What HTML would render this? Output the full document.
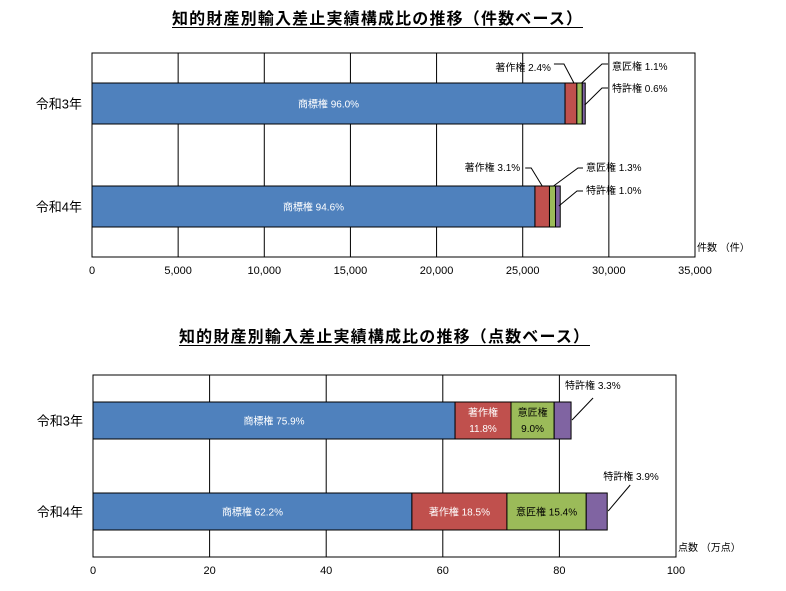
<!DOCTYPE html>
<html><head><meta charset="utf-8">
<style>
body{margin:0;background:#fff;}
svg{display:block;font-family:"Liberation Sans","Noto Sans CJK JP",sans-serif;}
</style></head>
<body>
<svg id="c" width="786" height="591" viewBox="0 0 786 591"></svg>
<script>
const categories = ["令和3年","令和4年"];
const seriesNames = ["商標権","著作権","意匠権","特許権"];
const colors = ["#4f81bd","#c0504d","#9bbb59","#8064a2"];
// chart 1: counts
const c1Trademark = [27456, 25710];
const c1Copyright = [686, 843];
const c1Design = [315, 353];
const c1Patent = [172, 272];
const c1Pct = [["96.0%","2.4%","1.1%","0.6%"],["94.6%","3.1%","1.3%","1.0%"]];
const c1Ticks = [0,5000,10000,15000,20000,25000,30000,35000];
const c1TickLabels = ["0","5,000","10,000","15,000","20,000","25,000","30,000","35,000"];
// chart 2: points (10k)
const c2Trademark = [62.1, 54.7];
const c2Copyright = [9.6, 16.3];
const c2Design = [7.4, 13.6];
const c2Patent = [2.9, 3.6];
const c2Pct = [["75.9%","11.8%","9.0%","3.3%"],["62.2%","18.5%","15.4%","3.9%"]];
const c2Ticks = [0,20,40,60,80,100];
const c2TickLabels = ["0","20","40","60","80","100"];

const NS="http://www.w3.org/2000/svg";
const svg=document.getElementById('c');
function mk(tag,attrs,parent){const e=document.createElementNS(NS,tag);for(const k in attrs)e.setAttribute(k,attrs[k]);(parent||svg).appendChild(e);return e;}
function txt(x,y,s,opt,parent){const t=mk('text',Object.assign({x:x,y:y,'font-size':11,fill:'#000'},opt||{}),parent);t.textContent=s;return t;}

function drawChart(cfg){
  const g=mk('g',{});
  
  
  const sx=v=>cfg.x0+(v-cfg.min)/(cfg.max-cfg.min)*(cfg.x1-cfg.x0);
  const tt=txt(cfg.titleX-205,cfg.titleY,cfg.title,{'font-size':16,'font-weight':'bold','textLength':410,'lengthAdjust':'spacing'},g);
  
  
  const ul=mk('line',{x1:cfg.titleX-205,x2:cfg.titleX+206,y1:cfg.titleY+3.5,y2:cfg.titleY+3.5,stroke:'#000','stroke-width':1},g);
  
  
  const pa=mk('rect',{x:cfg.x0,y:cfg.y0,width:cfg.x1-cfg.x0,height:cfg.y1-cfg.y0,fill:'#fff',stroke:'#000','stroke-width':1},g);
  
  
  cfg.ticks.forEach((v,i)=>{
    const gl=mk('line',{x1:sx(v),x2:sx(v),y1:cfg.y0,y2:cfg.y1,stroke:'#000','stroke-width':1},g);
    
    
    const tl=txt(sx(v),cfg.y1+17,cfg.tickLabels[i],{'text-anchor':'middle'},g);
    
    
  });
  const ut=txt(cfg.x1+2,cfg.y1-6,cfg.unit,{'font-size':10},g);
  
  
  categories.forEach((cat,ci)=>{
    const by=cfg.barY[ci],bh=cfg.barH;
    const cl=txt(cfg.x0-10,by+bh/2+5,cat,{'font-size':13,'text-anchor':'end'},g);
    
    
    let acc=0;const ends=[];
    cfg.series.forEach((arr,si)=>{
      const a=sx(acc),b=sx(acc+arr[ci]);acc+=arr[ci];
      const r=mk('rect',{x:a,y:by,width:b-a,height:bh,fill:colors[si],stroke:'#000','stroke-width':1},g);
      
      
      ends.push([a,b]);
    });
    cfg.labels(g,ci,ends,by,bh);
  });
}
function line(g,pts){const p=mk('polyline',{points:pts.map(p=>p.join(',')).join(' '),fill:'none',stroke:'#000','stroke-width':1},g);}
function lab(g,x,y,s,opt){const t=txt(x,y,s,Object.assign({'font-size':10},opt||{}),g);return t;}

drawChart({name:'chart-count',title:'知的財産別輸入差止実績構成比の推移（件数ベース）',titleX:377,titleY:24,
  x0:92,x1:695,y0:53,y1:257,min:0,max:35000,ticks:c1Ticks,tickLabels:c1TickLabels,unit:'件数 （件）',
  barY:[83,186],barH:41,series:[c1Trademark,c1Copyright,c1Design,c1Patent],
  labels:(g,ci,e,by,bh)=>{
    const p=c1Pct[ci];
    lab(g,(e[0][0]+e[0][1])/2,by+bh/2+4,seriesNames[0]+' '+p[0],{fill:'#fff','text-anchor':'middle'});
    const m1=(e[1][0]+e[1][1])/2,m2=(e[2][0]+e[2][1])/2,m3=(e[3][0]+e[3][1])/2;
    if(ci===0){
      lab(g,m1-20,by-12,seriesNames[1]+' '+p[1],{'text-anchor':'end'});
      line(g,[[m1-17,by-19],[m1-7,by-19],[m1+3,by]]);
      lab(g,612,by-13,seriesNames[2]+' '+p[2]);
      line(g,[[608,by-19],[602,by-19],[m2+2,by]]);
      lab(g,612,by+9,seriesNames[3]+' '+p[3]);
      line(g,[[608,by+5],[602,by+5],[m3+1,by+22]]);
    }else{
      lab(g,m1-22,by-15,seriesNames[1]+' '+p[1],{'text-anchor':'end'});
      line(g,[[m1-17,by-18],[m1-11,by-18],[m1+0,by]]);
      lab(g,586,by-15,seriesNames[2]+' '+p[2]);
      line(g,[[583,by-18],[578,by-18],[m2+1,by]]);
      lab(g,586,by+8,seriesNames[3]+' '+p[3]);
      line(g,[[583,by+5],[577,by+5],[m3+1,by+20]]);
    }
  }});

drawChart({name:'chart-points',title:'知的財産別輸入差止実績構成比の推移（点数ベース）',titleX:384,titleY:342,
  x0:93,x1:676,y0:375,y1:557,min:0,max:100,ticks:c2Ticks,tickLabels:c2TickLabels,unit:'点数 （万点）',
  barY:[402,493],barH:37,series:[c2Trademark,c2Copyright,c2Design,c2Patent],
  labels:(g,ci,e,by,bh)=>{
    const p=c2Pct[ci];
    const cx=i=>(e[i][0]+e[i][1])/2;
    lab(g,cx(0),by+bh/2+4,seriesNames[0]+' '+p[0],{fill:'#fff','text-anchor':'middle'});
    if(ci===0){
      lab(g,cx(1),by+14,seriesNames[1],{fill:'#fff','text-anchor':'middle'});
      lab(g,cx(1),by+30,p[1],{fill:'#fff','text-anchor':'middle'});
      lab(g,cx(2),by+14,seriesNames[2],{'text-anchor':'middle'});
      lab(g,cx(2),by+30,p[2],{'text-anchor':'middle'});
      lab(g,e[3][1]-6,by-13,seriesNames[3]+' '+p[3]);
      line(g,[[e[3][1]+22,by-4],[e[3][1]+1,by+18]]);
    }else{
      lab(g,cx(1),by+bh/2+4,seriesNames[1]+' '+p[1],{fill:'#fff','text-anchor':'middle'});
      lab(g,cx(2),by+bh/2+4,seriesNames[2]+' '+p[2],{'text-anchor':'middle'});
      lab(g,e[3][1]-4,by-13,seriesNames[3]+' '+p[3]);
      line(g,[[e[3][1]+23,by-8],[e[3][1]+1,by+18]]);
    }
  }});
</script>
</body></html>
